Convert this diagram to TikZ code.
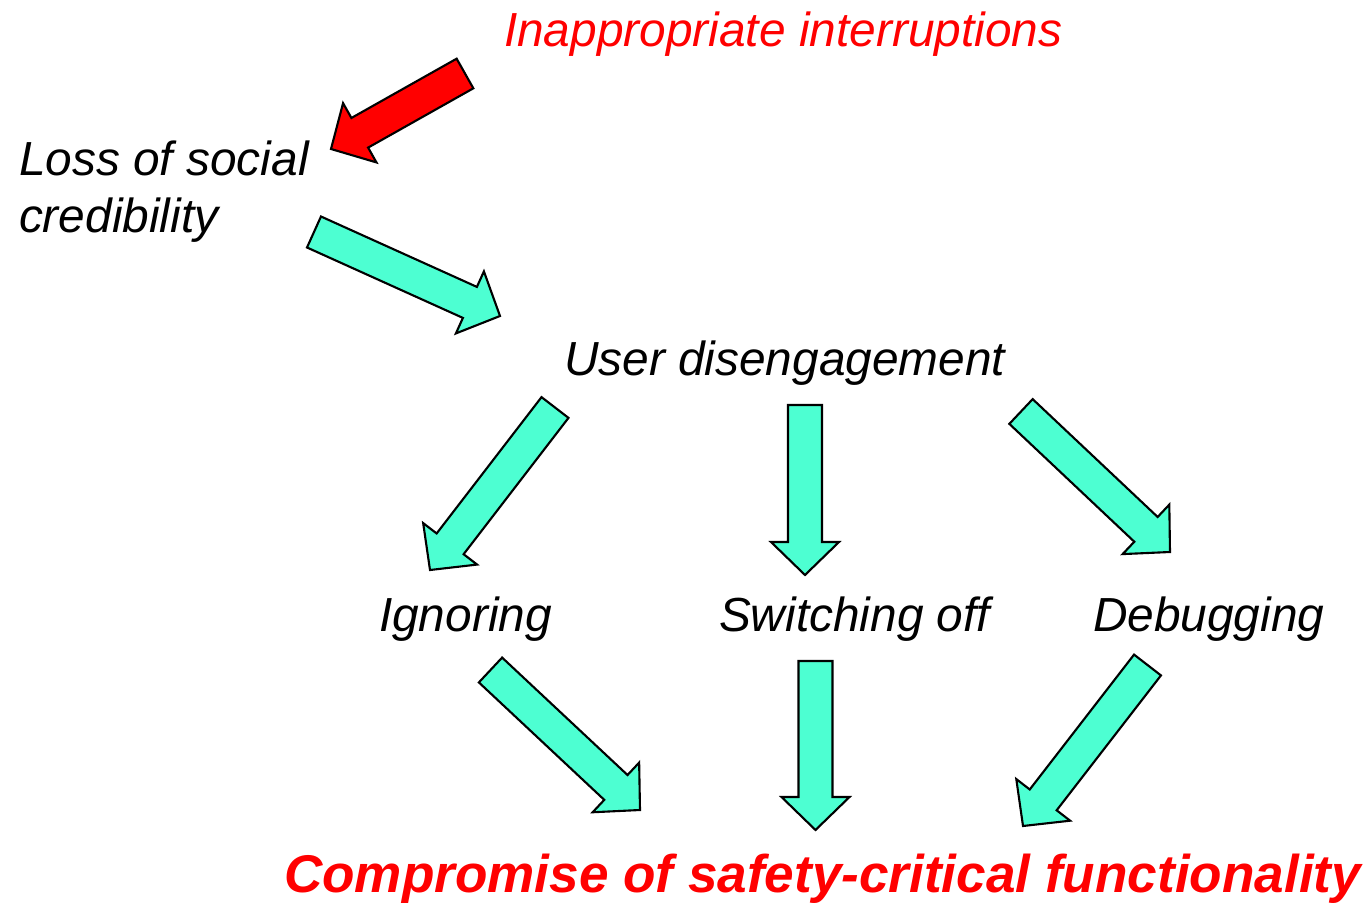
\documentclass[tikz,border=0pt]{standalone}
\usepackage{fontspec}
\setmainfont{Liberation Sans}
\usetikzlibrary{calc}

\definecolor{aqua}{RGB}{77,255,210}

% block arrow from #2 (middle of the tail) to #3 (tip)
\newcommand\fatarrow[3][aqua]{%
  \path ($(#3)!\headlen!(#2)$) coordinate (neck);
  \draw[fill = #1] ($(#2)!\shaftw!90:(#3)$) -- ($(neck)!\shaftw!90:(#3)$)
  -- ($(neck)!\headw!90:(#3)$) -- (#3) -- ($(neck)!\headw!-90:(#3)$)
  -- ($(neck)!\shaftw!-90:(#3)$) -- ($(#2)!\shaftw!-90:(#3)$) -- cycle;
}

\begin{document}
\begin{tikzpicture}[x = .01cm, y = -.01cm, line join = miter, line width = .6pt,
  every node/.style = {inner sep = 0, anchor = base west,
    font = \fontsize{13.6}{16.2}\selectfont\itshape}]
  \useasboundingbox (0, 0) rectangle (1369, 903);

  \def\shaftw{.17cm}
  \def\headw{.34cm}
  \def\headlen{.33cm}

  \node[red] (inter) at (503, 46) {Inappropriate interruptions};
  \node[align = left] (loss) at (18, 232) {Loss of social\\credibility};
  \node (diseng) at (563, 375) {User disengagement};
  \node (ignore) at (378, 631) {Ignoring};
  \node (switch) at (718, 631) {Switching off};
  \node (debug) at (1092, 631) {Debugging};
  \node[red, font = \fontsize{15.1}{18}\selectfont\bfseries\itshape] (comp)
  at (283, 892) {Compromise of safety-critical functionality};

  \coordinate (inter-out) at (465, 73.5);
  \coordinate (loss-in) at (331, 149);
  \coordinate (loss-out) at (314, 232);
  \coordinate (diseng-in) at (500, 316);
  \coordinate (diseng-l) at (555, 407.5);
  \coordinate (ignore-in) at (430, 570);
  \coordinate (diseng-m) at (805, 405);
  \coordinate (switch-in) at (805, 575);
  \coordinate (diseng-r) at (1021, 411.5);
  \coordinate (debug-in) at (1170, 552);
  \coordinate (ignore-out) at (490.5, 670);
  \coordinate (comp-l) at (640, 810);
  \coordinate (switch-out) at (815.5, 661);
  \coordinate (comp-m) at (815.5, 830);
  \coordinate (debug-out) at (1147.5, 665);
  \coordinate (comp-r) at (1023, 826);

  \fatarrow[red]{inter-out}{loss-in}
  \fatarrow{loss-out}{diseng-in}
  \fatarrow{diseng-l}{ignore-in}
  \fatarrow{diseng-m}{switch-in}
  \fatarrow{diseng-r}{debug-in}
  \fatarrow{ignore-out}{comp-l}
  \fatarrow{switch-out}{comp-m}
  \fatarrow{debug-out}{comp-r}
\end{tikzpicture}
\end{document}
